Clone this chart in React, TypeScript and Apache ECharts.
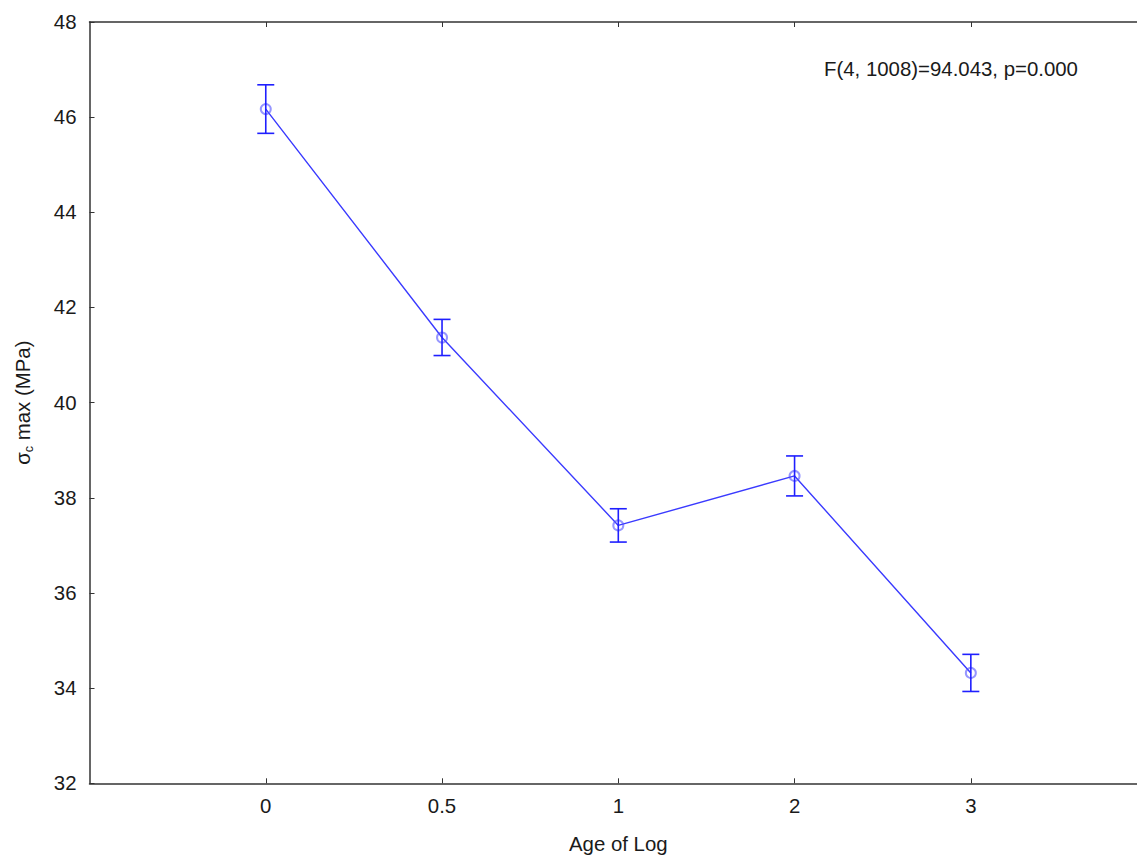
import React, { useEffect, useRef } from "react";
import * as echarts from "echarts";

// Group labels along the x axis, in plotting order
const ageLabels = ["0", "0.5", "1", "2", "3"];
// Mean of σc max (MPa) for each age group
const means = [46.17, 41.37, 37.42, 38.46, 34.32];
// Half-width of the confidence interval for each mean
const halfWidths = [0.51, 0.38, 0.35, 0.42, 0.39];
// Value axis ticks
const yTicks = [32, 34, 36, 38, 40, 42, 44, 46, 48];
const statText = "F(4, 1008)=94.043, p=0.000";

const FONT = "'Liberation Sans', Arial, sans-serif";
const FS = 20.4;
const TEXT = "#1a1a1a";
const AXIS = "#333333";

export default function App() {
  const ref = useRef<HTMLDivElement>(null);

  useEffect(() => {
    if (!ref.current) return;
    const chart = echarts.init(ref.current, undefined, { renderer: "svg" });

    const positions = ageLabels.map((_, i) => i);
    const meanData = means.map((m, i) => [positions[i], m]);
    const barData = means.map((m, i) => [positions[i], m - halfWidths[i], m + halfWidths[i]]);

    const option: any = {
      animation: false,
      backgroundColor: "#ffffff",
      textStyle: { fontFamily: FONT },
      grid: {
        left: 89.5,
        top: 22,
        width: 1057.6,
        height: 761.3,
        containLabel: false,
        outerBoundsMode: "none",
      },
      xAxis: [
        {
          type: "value",
          min: -1,
          max: 5,
          interval: 1,
          name: "Age of Log",
          nameLocation: "middle",
          nameGap: 51,
          nameTextStyle: { fontSize: FS, color: TEXT, fontFamily: FONT },
          axisLine: { show: true, onZero: false, lineStyle: { color: AXIS, width: 1.5 } },
          axisTick: { show: true, inside: true, length: 5, customValues: positions, lineStyle: { color: AXIS, width: 1 } },
          axisLabel: {
            show: true,
            customValues: positions,
            formatter: (v: number) => ageLabels[Math.round(v)] ?? "",
            fontSize: FS,
            color: TEXT,
            margin: 13,
            fontFamily: FONT,
          },
          splitLine: { show: false },
        },
        {
          type: "value",
          position: "top",
          min: -1,
          max: 5,
          interval: 1,
          axisLine: { show: true, onZero: false, lineStyle: { color: AXIS, width: 1.5 } },
          axisTick: { show: true, inside: true, length: 5, customValues: positions, lineStyle: { color: AXIS, width: 1 } },
          axisLabel: { show: false },
          splitLine: { show: false },
        },
      ],
      yAxis: [
        {
          type: "value",
          min: yTicks[0],
          max: yTicks[yTicks.length - 1],
          interval: 2,
          name: "{n|σ}{s|c}{n| max (MPa)}",
          nameLocation: "middle",
          nameRotate: 90,
          nameGap: 57,
          nameTextStyle: {
            color: TEXT,
            fontFamily: FONT,
            rich: {
              n: { fontSize: FS, color: TEXT, fontFamily: FONT, lineHeight: 22, verticalAlign: "bottom" },
              s: { fontSize: 12.5, color: TEXT, fontFamily: FONT, lineHeight: 12, verticalAlign: "bottom", padding: [0, 0, -3, 0] },
            },
          },
          axisLine: { show: true, onZero: false, lineStyle: { color: AXIS, width: 1.5 } },
          axisTick: { show: true, inside: true, length: 5, lineStyle: { color: AXIS, width: 1 } },
          axisLabel: { fontSize: FS, color: TEXT, margin: 13, fontFamily: FONT },
          splitLine: { show: false },
        },
        {
          type: "value",
          position: "right",
          min: yTicks[0],
          max: yTicks[yTicks.length - 1],
          interval: 2,
          axisLine: { show: true, onZero: false, lineStyle: { color: AXIS, width: 1.5 } },
          axisTick: { show: true, inside: true, length: 5 },
          axisLabel: { show: false },
          splitLine: { show: false },
        },
      ],
      series: [
        {
          type: "line",
          data: meanData,
          xAxisIndex: 0,
          yAxisIndex: 0,
          symbol: "circle",
          symbolSize: 10,
          lineStyle: { color: "#3a3aff", width: 1.4 },
          itemStyle: { color: "rgba(255,255,255,0)", borderColor: "rgba(80,80,255,0.6)", borderWidth: 2 },
          z: 3,
        },
        {
          type: "custom",
          xAxisIndex: 0,
          yAxisIndex: 0,
          data: barData,
          renderItem: (params: any, api: any) => {
            const x = api.value(0);
            const lo = api.coord([x, api.value(1)]);
            const hi = api.coord([x, api.value(2)]);
            const cap = 8.5;
            const style = { stroke: "#1f1fff", lineWidth: 1.6 };
            return {
              type: "group",
              children: [
                { type: "line", shape: { x1: lo[0], y1: lo[1], x2: hi[0], y2: hi[1] }, style },
                { type: "line", shape: { x1: hi[0] - cap, y1: hi[1], x2: hi[0] + cap, y2: hi[1] }, style },
                { type: "line", shape: { x1: lo[0] - cap, y1: lo[1], x2: lo[0] + cap, y2: lo[1] }, style },
              ],
            };
          },
          z: 4,
        },
      ],
      graphic: [
        {
          type: "text",
          left: 824,
          top: 59,
          style: { text: statText, fontSize: FS, fill: TEXT, fontFamily: FONT },
        },
      ],
    };

    chart.setOption(option);
    return () => chart.dispose();
  }, []);

  return (
    <div
      ref={ref}
      style={{ position: "fixed", left: 0, top: 0, width: 1137, height: 859, background: "#fff" }}
    />
  );
}
